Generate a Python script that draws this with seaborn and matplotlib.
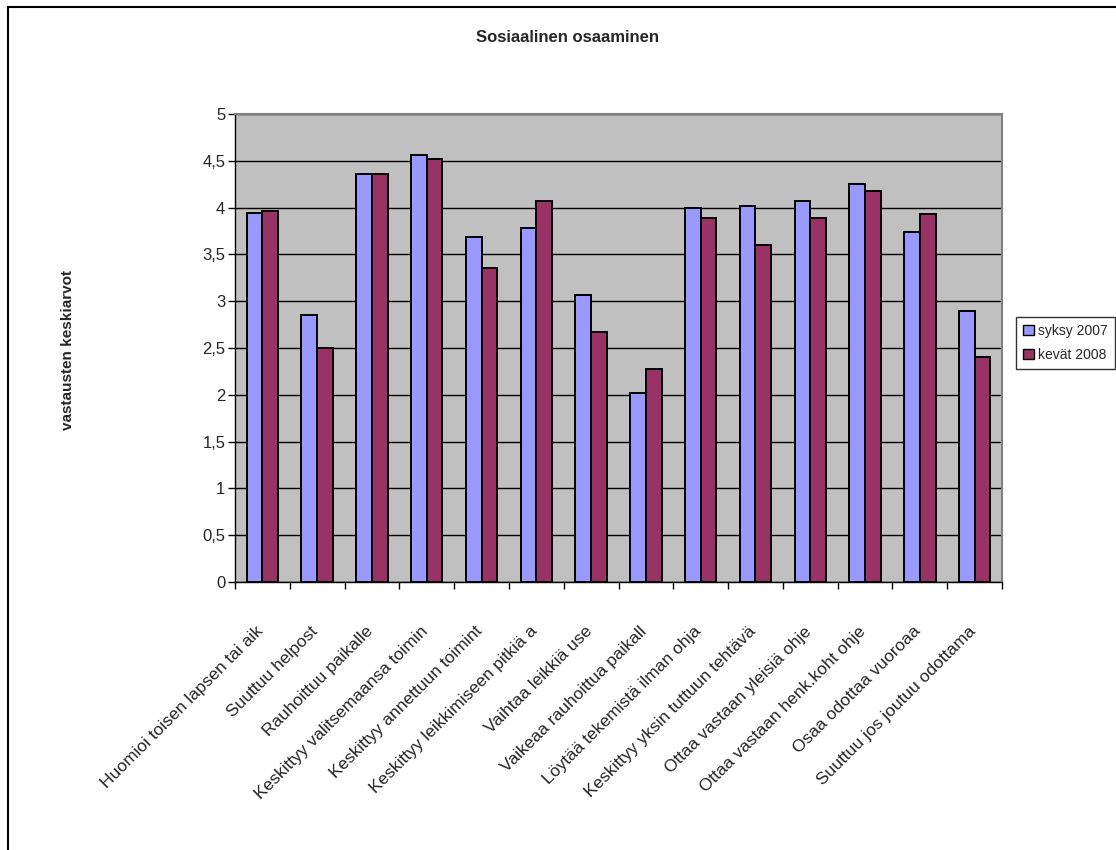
import matplotlib
matplotlib.use("Agg")
import matplotlib.pyplot as plt
import seaborn as sns
import pandas as pd
from matplotlib.patches import Rectangle
from matplotlib.transforms import ScaledTranslation
from matplotlib.ticker import FuncFormatter, MultipleLocator, FixedLocator

# truncated labels as they appear in the original chart
kysymykset = [
    "Huomioi toisen lapsen tai aik",
    "Suuttuu helpost",
    "Rauhoittuu paikalle",
    "Keskittyy valitsemaansa toimin",
    "Keskittyy annettuun toimint",
    "Keskittyy leikkimiseen pitkiä a",
    "Vaihtaa leikkiä use",
    "Vaikeaa rauhoittua paikall",
    "Löytää tekemistä ilman ohja",
    "Keskittyy yksin tuttuun tehtävä",
    "Ottaa vastaan yleisiä ohje",
    "Ottaa vastaan henk.koht ohje",
    "Osaa odottaa vuoroaa",
    "Suuttuu jos joutuu odottama",
]
syksy_2007 = [3.94, 2.85, 4.36, 4.56, 3.69, 3.78, 3.07, 2.02, 4.00, 4.02, 4.07, 4.25, 3.74, 2.89]
kevat_2008 = [3.96, 2.50, 4.36, 4.52, 3.36, 4.07, 2.67, 2.28, 3.89, 3.60, 3.89, 4.18, 3.93, 2.40]
kaudet = ["syksy 2007", "kevät 2008"]
varit = ["#9999FF", "#993366"]

df = pd.DataFrame({
    "kysymys": kysymykset * 2,
    "kausi": [kaudet[0]] * len(kysymykset) + [kaudet[1]] * len(kysymykset),
    "arvo": syksy_2007 + kevat_2008,
})

sns.set_style("white")
plt.rcParams["font.family"] = ["Liberation Sans", "DejaVu Sans"]

fig = plt.figure(figsize=(11.16, 8.5), dpi=100)
ax = fig.add_axes([235 / 1116, (850 - 582) / 850, 767 / 1116, 468 / 850])
ax.set_facecolor("#C0C0C0")

sns.barplot(data=df, x="kysymys", y="arvo", hue="kausi", hue_order=kaudet,
            palette=varit, width=0.573, gap=0, edgecolor="black", linewidth=1.4,
            saturation=1, errorbar=None, ax=ax, zorder=3)

ax.set_ylim(0, 5)
ax.set_xlim(-0.5, len(kysymykset) - 0.5)
ax.yaxis.set_major_locator(MultipleLocator(0.5))
ax.yaxis.set_major_formatter(FuncFormatter(lambda v, p: f"{v:g}".replace(".", ",")))
ax.grid(axis="y", color="black", lw=1, zorder=1)
ax.set_axisbelow(True)

ax.set_xticks(range(len(kysymykset)))
ax.set_xticklabels(kysymykset, rotation=45, ha="right", rotation_mode="anchor", fontsize=12.5)
ax.xaxis.set_minor_locator(FixedLocator([i - 0.5 for i in range(len(kysymykset) + 1)]))
ax.tick_params(axis="x", which="major", length=0, pad=30)
ax.tick_params(axis="x", which="minor", length=5, width=1, color="black", bottom=True)
ax.tick_params(axis="y", length=5, width=1, color="black", left=True, labelsize=12, pad=2)
# nudge the slanted labels a bit left, like the original
for lab in ax.get_xticklabels():
    lab.set_transform(lab.get_transform() + ScaledTranslation(-7 / 100, 0, fig.dpi_scale_trans))

for s in ["left", "bottom"]:
    ax.spines[s].set_color("black")
    ax.spines[s].set_linewidth(1)
for s in ["top", "right"]:
    ax.spines[s].set_color("#808080")
    ax.spines[s].set_linewidth(1.5)

ax.set_xlabel("")
ax.set_ylabel("")
fig.text(68 / 1116, 1 - 350 / 850, "vastausten keskiarvot", rotation=90,
         ha="center", va="center", fontsize=11, fontweight="bold")
fig.text(567 / 1116, 1 - 37 / 850, "Sosiaalinen osaaminen",
         ha="center", va="center", fontsize=12, fontweight="bold")

leg = ax.legend(loc="upper left", bbox_to_anchor=(1016 / 1116, 1 - 317 / 850),
                bbox_transform=fig.transFigure, frameon=True, fancybox=False,
                fontsize=10, handlelength=0.8, handleheight=0.8, handletextpad=0.3,
                borderpad=0.5, labelspacing=0.7, borderaxespad=0)
leg.get_frame().set_edgecolor("black")
leg.get_frame().set_linewidth(1)
for h in leg.legend_handles:
    h.set_edgecolor("black")
    h.set_linewidth(1)

# outer chart frame
fig.patches.append(Rectangle((8 / 1116, -0.02), 1.05, 1 - 7 / 850 + 0.02,
                             transform=fig.transFigure, fill=False,
                             edgecolor="black", lw=1.5))

fig.savefig("out.png", dpi=100)
